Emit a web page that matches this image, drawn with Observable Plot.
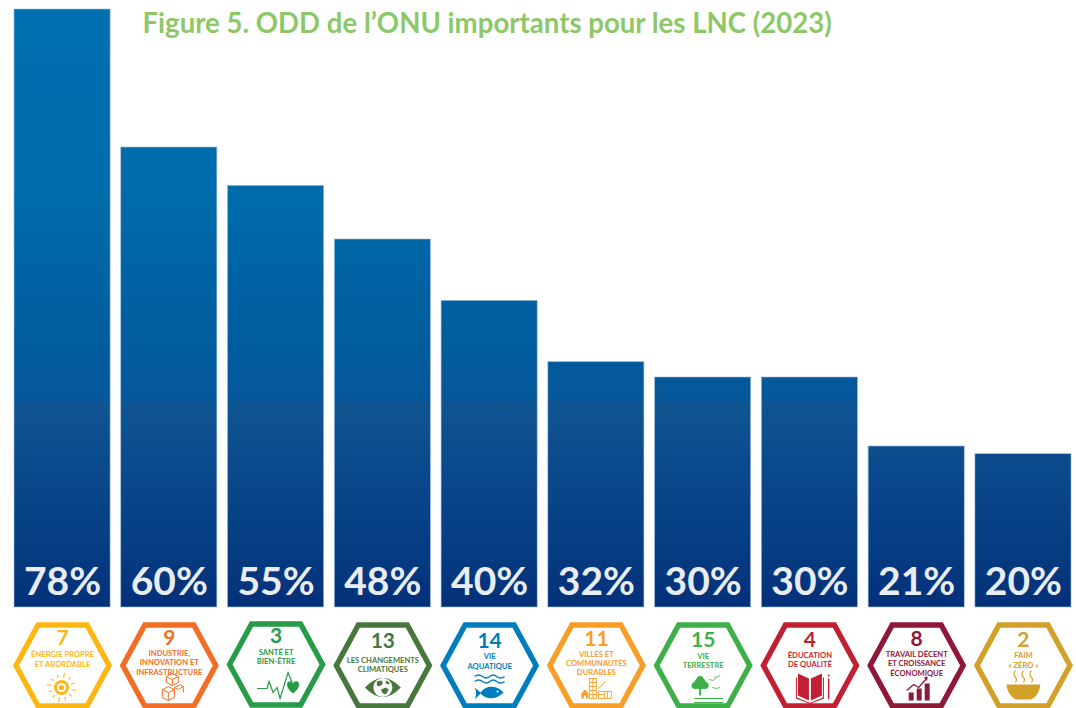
<!DOCTYPE html>
<html lang="fr">
<head>
<meta charset="utf-8">
<script src="https://cdn.jsdelivr.net/npm/d3@7"></script>
<script src="https://cdn.jsdelivr.net/npm/@observablehq/plot@0.6"></script>
<style>
html,body{margin:0;padding:0;background:#fff;overflow:hidden}
svg{display:block}
</style>
</head>
<body>
<div id="chart"></div>
<script>
const titleText = "Figure 5. ODD de l’ONU importants pour les LNC (2023)";
const goals = ["7", "9", "3", "13", "14", "11", "15", "4", "8", "2"];
const values = [78, 60, 55, 48, 40, 32, 30, 30, 21, 20];
const goalNames = [
  "ÉNERGIE PROPRE\nET ABORDABLE",
  "INDUSTRIE,\nINNOVATION ET\nINFRASTRUCTURE",
  "SANTÉ ET\nBIEN-ÊTRE",
  "LES CHANGEMENTS\nCLIMATIQUES",
  "VIE\nAQUATIQUE",
  "VILLES ET\nCOMMUNAUTÉS\nDURABLES",
  "VIE\nTERRESTRE",
  "ÉDUCATION\nDE QUALITÉ",
  "TRAVAIL DÉCENT\nET CROISSANCE\nÉCONOMIQUE",
  "FAIM\n« ZÉRO »"
];

// Styling and layout, kept apart from the data
const goalColors = ["#FDB713","#F36D25","#279B48","#48773E","#007DBC","#F99D26","#3EB049","#C31F33","#8F1838","#D3A029"];
const numberDy = [31, 31, 29, 34, 33.5, 32, 32.5, 33, 32, 33];
const nameDy = [51.5, 55, 49, 57, 53.5, 55.5, 53, 52, 56, 52.5];
const hexDy = [58, 58, 57, 58, 58, 58, 58, 58, 58, 58];
const iconDy = 78;
const FONT = "Lato, 'Open Sans', sans-serif";
const H = 708, W = 1076, TOP = 9, BOTTOM = 101;

const rows = goals.map((g, i) => ({goal: g, value: values[i], name: goalNames[i], color: goalColors[i], i}));

// Custom symbols for Plot.dot; coordinates are relative to the anchor
const sym = fn => ({draw: ctx => fn(ctx)});
const poly = (c, pts, close) => {
  pts.forEach((p, i) => i ? c.lineTo(p[0], p[1]) : c.moveTo(p[0], p[1]));
  if (close) c.closePath();
};
const circ = (c, x, y, r) => { c.moveTo(x + r, y); c.arc(x, y, r, 0, 2 * Math.PI); };
const hexagon = sym(c => poly(c, [[-46.5,0],[-24.5,-40.5],[24.5,-40.5],[46.5,0],[24.5,40.5],[-24.5,40.5]], true));

const icons = [
  [ // sun
    {f:1, d:c => circ(c,-1,2,7.5)},
    {w:1, d:c => { circ(c,-1,2,4.5); }},
    {f:1, d:c => { circ(c,-1,2,2.6); }},
    {s:1, sw:1.1, d:c => { for (let k=0;k<12;k++){const a=k*Math.PI/6+0.2; poly(c,[[-1+10*Math.cos(a),2+10*Math.sin(a)],[-1+(k%3==0?15:13.5)*Math.cos(a),2+(k%3==0?15:13.5)*Math.sin(a)]]);} }}
  ],
  [ // cubes
    {s:1, sw:1, d:c => {
      poly(c,[[-7,12],[-7,4],[-1,1],[5,4],[5,12],[-1,15]],true); poly(c,[[-7,4],[-1,7],[5,4]]); poly(c,[[-1,7],[-1,15]]);
      poly(c,[[5,9],[5,2],[11,-1],[14,1],[14,7]]); poly(c,[[5,2],[9,4],[14,1]]);
      poly(c,[[-3,-3],[-3,-9],[3,-12],[9,-9],[9,-3],[3,0],[-3,-3]]); poly(c,[[-3,-9],[3,-6],[9,-9]]); poly(c,[[3,-6],[3,0]]);
    }}
  ],
  [ // pulse and heart
    {s:1, sw:1.2, d:c => poly(c,[[-19,3],[-9,3],[-7,-4],[-3,7],[1,2],[4,13],[12,-13],[16,-3]])},
    {f:1, d:c => { c.moveTo(17,8); c.bezierCurveTo(12,4,11,1,11,-1); c.bezierCurveTo(11,-5,16,-5,17,-2); c.bezierCurveTo(18,-5,23,-5,23,-1); c.bezierCurveTo(23,1,22,4,17,8); c.closePath(); }}
  ],
  [ // eye and globe
    {f:1, d:c => { c.moveTo(-18,2); c.quadraticCurveTo(0,-17,18,2); c.quadraticCurveTo(0,21,-18,2); c.closePath(); }},
    {w:1, d:c => circ(c,0,2,9.5)},
    {f:1, d:c => { poly(c,[[-6,-4],[-1,-5],[0,-2],[-3,1],[-6,0]],true); poly(c,[[-2,4],[3,2],[6,4],[3,9],[0,8]],true); poly(c,[[3,-5],[7,-3],[6,-1],[3,-2]],true); }}
  ],
  [ // fish and waves
    {s:1, sw:1.4, d:c => { for (const y of [-9,-4]) { c.moveTo(-15,y); c.quadraticCurveTo(-11,y-3,-7,y); c.quadraticCurveTo(-3,y+3,0,y); c.quadraticCurveTo(4,y-3,7,y); c.quadraticCurveTo(11,y+3,15,y);} }},
    {f:1, d:c => { c.moveTo(-15,2); c.lineTo(-9,7); c.bezierCurveTo(-4,0,6,-1,14,7); c.bezierCurveTo(6,15,-4,14,-9,8); c.lineTo(-15,14); c.quadraticCurveTo(-12,8,-15,2); c.closePath(); }},
    {w:1, d:c => circ(c,8,6,1.1)}
  ],
  [ // city
    {s:1, sw:0.9, d:c => {
      poly(c,[[-7,-7],[0,-7],[0,13],[-7,13]],true);
      for (const y of [-3,1,5,9]) poly(c,[[-7,y],[0,y]]);
      poly(c,[[-3.5,-7],[-3.5,13]]);
      poly(c,[[2,6],[15,6],[15,13],[2,13]],true); poly(c,[[8,6],[8,13]]); poly(c,[[2,9],[8,9]]); poly(c,[[11,6],[11,13]]);
      poly(c,[[2,3],[9,-4]]);
    }},
    {f:1, d:c => poly(c,[[-15,13],[-15,8],[-11.5,4],[-8,8],[-8,13],[-10.5,13],[-10.5,10],[-12.5,10],[-12.5,13]],true)}
  ],
  [ // tree and birds
    {f:1, d:c => { circ(c,-3,-2,6); circ(c,-8,0,3.5); circ(c,2,0,3.5); circ(c,-3,-6,3.5); poly(c,[[-4,2],[-2,2],[-2,10],[-4,10]],true); }},
    {s:1, sw:1.2, d:c => { poly(c,[[-9,13],[20,13]]); poly(c,[[-9,17],[20,17]]); }},
    {s:1, sw:0.8, d:c => { poly(c,[[6,-6],[10,-5],[13,-7]]); poly(c,[[11,-8],[15,-9],[17,-10]]); poly(c,[[9,2],[13,3],[17,2]]); }}
  ],
  [ // book and pencil
    {f:1, d:c => { poly(c,[[-12,-12],[-1,-7],[-1,15],[-12,10]],true); poly(c,[[1,-7],[12,-12],[12,10],[1,15]],true); poly(c,[[-14,-8],[-13,-8],[-13,12],[-1,17],[1,17],[13,12],[13,-8],[14,-8],[14,13],[1,18],[-1,18],[-14,13]],true); }},
    {f:1, d:c => { poly(c,[[18,-7],[19.5,-7],[19.5,12],[18.75,15],[18,12]],true); circ(c,18.75,-10,1); }}
  ],
  [ // growth chart
    {f:1, d:c => { poly(c,[[-8,15],[-8,7],[-3,7],[-3,15]],true); poly(c,[[0,15],[0,3],[5,3],[5,15]],true); poly(c,[[8,15],[8,-2],[13,-2],[13,15]],true); }},
    {s:1, sw:1.3, d:c => poly(c,[[-10,5],[-3,-1],[2,2],[9,-6]])},
    {f:1, d:c => poly(c,[[7,-8],[11,-9],[10.5,-4.5]],true)}
  ],
  [ // bowl and steam
    {f:1, d:c => { poly(c,[[-17,-1],[17,-1]]); c.bezierCurveTo(16,9,9,14,7,14); c.lineTo(-7,14); c.bezierCurveTo(-9,14,-16,9,-17,-1); c.closePath(); }},
    {s:1, sw:1.1, d:c => { for (const x of [-8,0,8]) { c.moveTo(x,-15); c.quadraticCurveTo(x-3,-11,x,-8); c.quadraticCurveTo(x+2,-6,x,-3); } }}
  ]
];

const iconMarks = rows.flatMap((r, i) => icons[i].map(p => Plot.dot([r], {
  x: "goal", frameAnchor: "bottom", dy: iconDy, r: 1,
  symbol: sym(p.d),
  fill: p.f ? r.color : p.w ? "#fff" : "none",
  stroke: p.s ? r.color : "none",
  strokeWidth: p.sw || 0
})));

const defs = () => {
  const svg = d3.create("svg:defs");
  const g = svg.append("linearGradient").attr("id", "barGrad")
    .attr("gradientUnits", "userSpaceOnUse")
    .attr("x1", 0).attr("x2", 0).attr("y1", TOP).attr("y2", H - BOTTOM);
  [[0,"#0070B0"],[0.3,"#006CAB"],[0.55,"#005D9E"],[0.655,"#05579A"],[0.657,"#0F5592"],[0.75,"#0B4B8D"],[0.9,"#063D82"],[1,"#033079"]]
    .forEach(([o, c]) => g.append("stop").attr("offset", o).attr("stop-color", c));
  return svg.node();
};

const chart = Plot.plot({
  width: W, height: H,
  marginTop: TOP, marginBottom: BOTTOM, marginLeft: 14, marginRight: 5,
  style: {background: "#fff", fontFamily: FONT},
  x: {domain: goals, paddingInner: 0.1, paddingOuter: 0, round: false, axis: null},
  y: {domain: [0, 78], axis: null},
  marks: [
    defs,
    Plot.barY(rows, {x: "goal", y: "value", fill: "url(#barGrad)", stroke: "#9DBBD8", strokeWidth: 0.6}),
    Plot.text(rows, {
      x: "goal", y: 0, text: d => d.value + "%",
      fill: "#E9EDF1", fontSize: 39, fontWeight: 700, fontFamily: FONT,
      lineAnchor: "bottom", dy: -13
    }),
    ...rows.map((r, i) => Plot.dot([r], {
      x: "goal", frameAnchor: "bottom", dy: hexDy[i], r: 1, symbol: hexagon,
      fill: "none", stroke: r.color, strokeWidth: 5.4
    })),
    ...rows.map((r, i) => Plot.text([r], {
      x: "goal", frameAnchor: "bottom", dy: numberDy[i], text: "goal",
      fill: r.color, fontSize: 21, fontWeight: 700, fontFamily: FONT, lineAnchor: "middle"
    })),
    ...rows.map((r, i) => Plot.text([r], {
      x: "goal", frameAnchor: "bottom", dy: nameDy[i], text: "name",
      fill: r.color, fontSize: 7.6, fontWeight: 700, fontFamily: FONT, lineAnchor: "middle", lineHeight: 1.22
    })),
    ...iconMarks,
    Plot.text([titleText], {
      frameAnchor: "top-left", dx: 128, dy: 4, text: d => d, textAnchor: "start", lineAnchor: "top",
      fill: "#8CC868", fontSize: 27.6, fontWeight: 700, fontFamily: FONT
    })
  ]
});
document.getElementById("chart").appendChild(chart);
</script>
</body>
</html>
